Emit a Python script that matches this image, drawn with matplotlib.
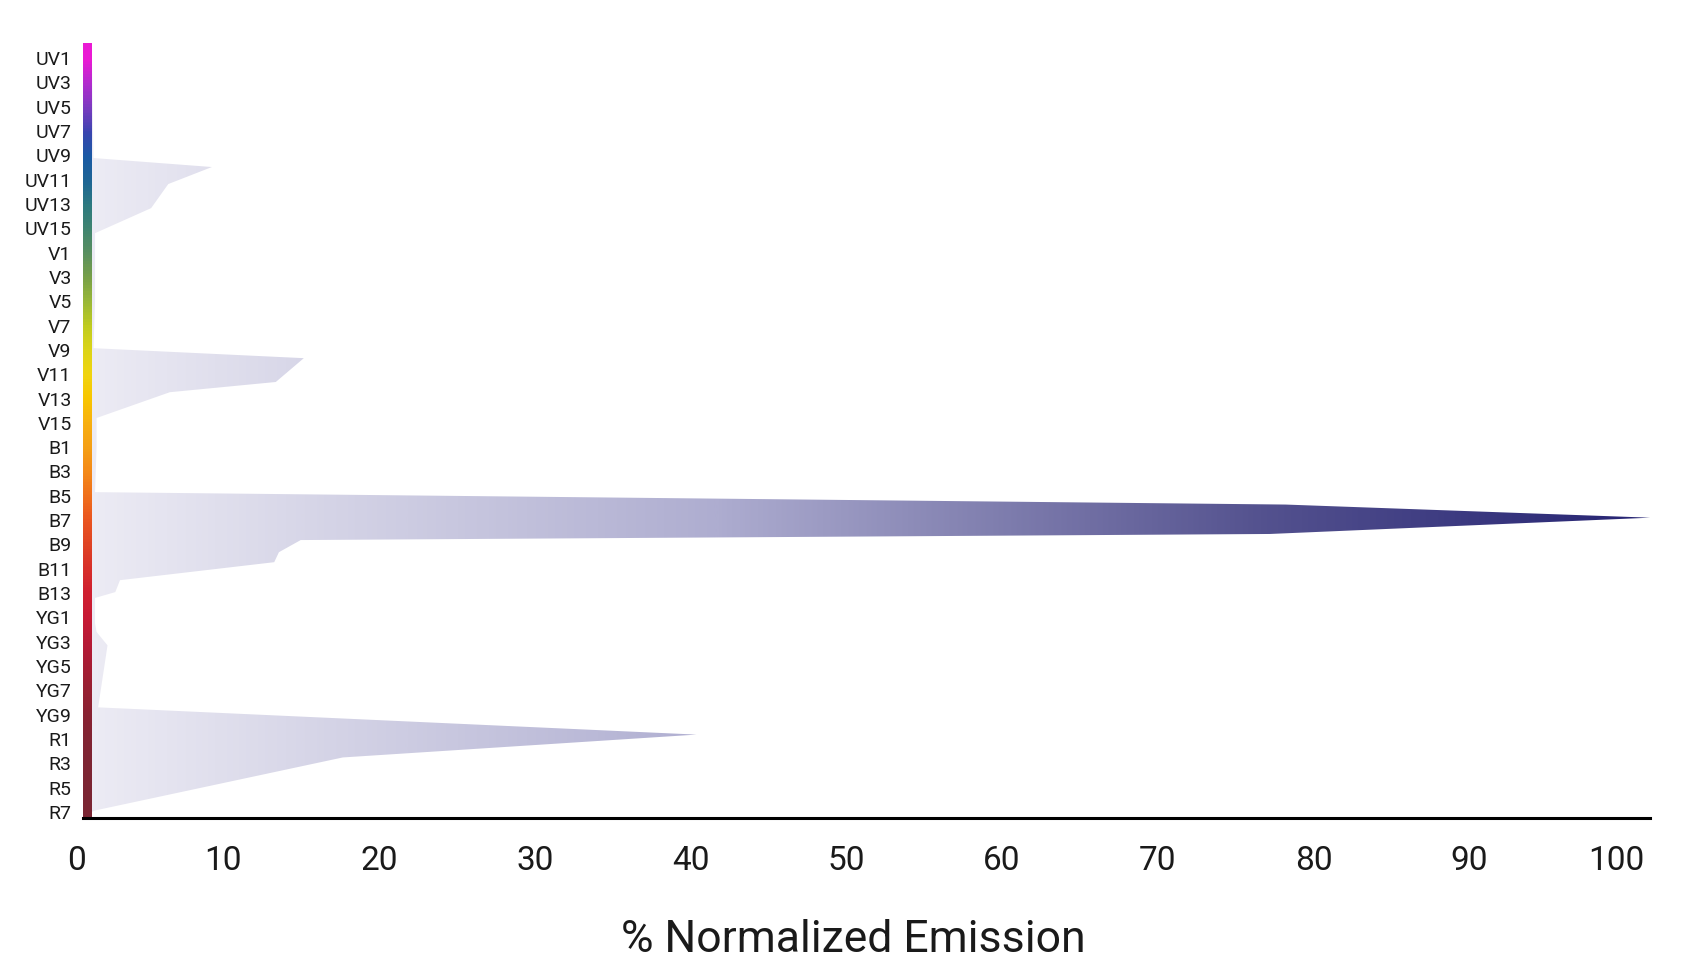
import numpy as np
import matplotlib
matplotlib.use('Agg')
import matplotlib.pyplot as plt
from matplotlib import transforms
from matplotlib.colors import LinearSegmentedColormap

# étiquettes des canaux (une ligne sur deux est affichée)
row_labels = ['UV1', 'UV3', 'UV5', 'UV7', 'UV9', 'UV11', 'UV13', 'UV15',
              'V1', 'V3', 'V5', 'V7', 'V9', 'V11', 'V13', 'V15',
              'B1', 'B3', 'B5', 'B7', 'B9', 'B11', 'B13',
              'YG1', 'YG3', 'YG5', 'YG7', 'YG9',
              'R1', 'R3', 'R5', 'R7']

# spectre d'émission : position (en lignes d'étiquettes) et % normalisé
spec_pos = [0.0, 4.11, 4.48, 5.18, 6.17, 7.20, 8.0, 10.0,
            11.93, 12.34, 13.32, 13.74, 14.80, 16.0,
            17.85, 18.36, 18.90, 19.57, 19.82, 20.32, 20.73, 21.47, 21.96, 22.20,
            23.25, 23.60, 24.15, 26.70,
            27.82, 28.76, 30.94, 31.0]
spec_val = [0.0, 0.1, 7.7, 4.9, 3.8, 0.2, 0.2, 0.2,
            0.1, 13.6, 11.8, 5.0, 0.3, 0.3,
            0.2, 76.6, 100.0, 75.6, 13.4, 12.0, 11.7, 1.8, 1.5, 0.2,
            0.2, 0.3, 1.0, 0.4,
            38.8, 16.1, 0.2, 0.0]

x_ticks = [0, 10, 20, 30, 40, 50, 60, 70, 80, 90, 100]

# couleur de la barre à chaque ligne d'étiquette (UV1 -> R7)
bar_colors = ['#ea1ad4', '#b02cce', '#7a3bc0', '#3a45b0', '#1a5aa5', '#1e6595',
              '#2d7a80', '#408570', '#5a9060', '#78a048', '#9ab838', '#c0cc20',
              '#dcd418', '#f0d410', '#f8c600', '#f8b010', '#f5a015', '#f48a18',
              '#f0701c', '#ea5520', '#e04424', '#d8302a', '#d02030', '#c81a34',
              '#b81a36', '#a81c34', '#982032', '#8a2232', '#822433', '#7e2533',
              '#7c2533', '#7a2533']

FONT = 'Roboto'
TXT = '#1a1a1a'

y_top, y_bot = -0.62, 31.25
x_min = -0.55

# dégradé de la barre verticale (haut -> bas)
stops = [(r - y_top) / (y_bot - y_top) for r in range(len(bar_colors))]
stops = [0.0] + stops + [1.0]
cols = [bar_colors[0]] + bar_colors + [bar_colors[-1]]
bar_cmap = LinearSegmentedColormap.from_list('bar', list(zip(stops, cols)))

# dégradé horizontal du remplissage
fill_cmap = LinearSegmentedColormap.from_list('fill', [
    (0.0, '#ecebf4'), (0.4, '#aeadd0'), (0.75, '#54528f'), (1.0, '#262473')])

fig = plt.figure(figsize=(16.94, 9.73), dpi=100)
ax = fig.add_axes([0.0492, 0.1593, 0.9249, 0.7965])

poly = ax.fill_betweenx(spec_pos, 0, spec_val, facecolor='none', edgecolor='none')
grad = np.linspace(0, 1, 600).reshape(1, -1)
im = ax.imshow(grad, extent=[0, 100, y_bot, y_top], aspect='auto',
               cmap=fill_cmap, interpolation='bilinear', zorder=2)
im.set_clip_path(poly.get_paths()[0], transform=ax.transData)

vgrad = np.linspace(0, 1, 800).reshape(-1, 1)
ax.imshow(vgrad, extent=[x_min, 0, y_bot, y_top], origin='upper', aspect='auto',
          cmap=bar_cmap, interpolation='bilinear', zorder=3)

ax.set_xlim(x_min, 100)
ax.set_ylim(y_bot, y_top)

for s in ['top', 'right', 'left']:
    ax.spines[s].set_visible(False)
ax.spines['bottom'].set_linewidth(2.2)
ax.spines['bottom'].set_color('#000000')
ax.spines['bottom'].set_zorder(4)

ax.set_yticks(range(len(row_labels)))
ax.set_yticklabels(row_labels, fontsize=14, family=FONT, color=TXT)
ax.tick_params(axis='y', length=0, pad=8.5)

ax.set_xticks([])
off = transforms.ScaledTranslation(-0.06, -0.43, fig.dpi_scale_trans)
trans = transforms.blended_transform_factory(ax.transData, ax.transAxes) + off
for v in x_ticks:
    ax.text(v, 0, str(v), transform=trans, ha='right', va='center',
            fontsize=24, family=FONT, color=TXT)

fig.text(0.504, 0.034, '% Normalized Emission', ha='center', va='center',
         fontsize=32, family=FONT, color=TXT)

fig.savefig('out.png', dpi=100, facecolor='white')
